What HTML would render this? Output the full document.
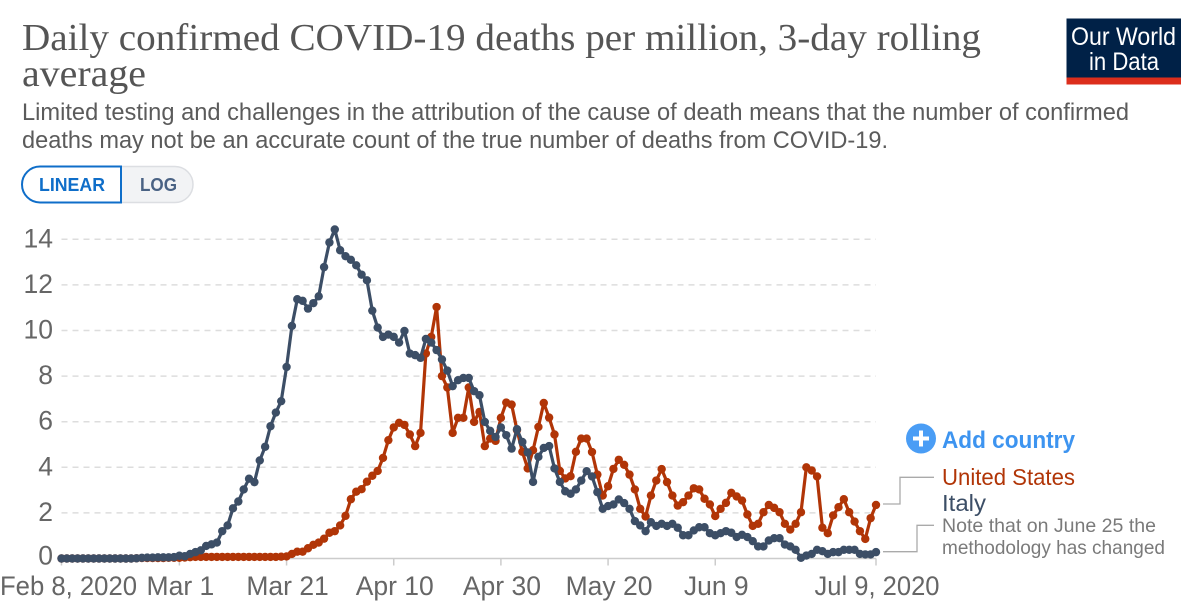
<!DOCTYPE html>
<html lang="en">
<head>
<meta charset="utf-8">
<title>Daily confirmed COVID-19 deaths per million</title>
<style>
html,body{margin:0;padding:0;background:#fff;width:1200px;height:608px;overflow:hidden}
svg{display:block}
text{font-family:"Liberation Sans",sans-serif}
.serif{font-family:"Liberation Serif",serif}
</style>
</head>
<body>
<svg id="chart" xmlns="http://www.w3.org/2000/svg" width="1200" height="608" viewBox="0 0 1200 608">
  <text class="serif" x="22" y="50" font-size="38" fill="#555" textLength="959" lengthAdjust="spacingAndGlyphs">Daily confirmed COVID-19 deaths per million, 3-day rolling</text>
  <text class="serif" x="22" y="86" font-size="38" fill="#555" textLength="124" lengthAdjust="spacingAndGlyphs">average</text>
  <text x="22" y="120" font-size="24" fill="#5b5b5b" textLength="1107" lengthAdjust="spacingAndGlyphs">Limited testing and challenges in the attribution of the cause of death means that the number of confirmed</text>
  <text x="22" y="148" font-size="24" fill="#5b5b5b" textLength="866" lengthAdjust="spacingAndGlyphs">deaths may not be an accurate count of the true number of deaths from COVID-19.</text>

  <g>
    <rect x="1066.5" y="18.5" width="114.5" height="59" fill="#002147"/>
    <rect x="1066.5" y="77.5" width="114.5" height="7" fill="#dc2e1c"/>
    <text x="1071" y="45" font-size="25" fill="#fff" textLength="105" lengthAdjust="spacingAndGlyphs">Our World</text>
    <text x="1089" y="70" font-size="25" fill="#fff" textLength="70" lengthAdjust="spacingAndGlyphs">in Data</text>
  </g>

  <g>
    <path d="M121 166.5H175a18 18 0 0 1 0 36H121Z" fill="#f2f3f5" stroke="#dcdee2" stroke-width="1.5"/>
    <path d="M121 166.5H40a18 18 0 0 0 0 36H121Z" fill="#fff" stroke="#0f6ec9" stroke-width="2"/>
    <text x="39" y="191" font-size="18" font-weight="bold" fill="#0f6ec9" textLength="66" lengthAdjust="spacingAndGlyphs">LINEAR</text>
    <text x="140" y="191" font-size="18" font-weight="bold" fill="#4a6284" textLength="37" lengthAdjust="spacingAndGlyphs">LOG</text>
  </g>

  <g id="grid"></g>
  <g id="xaxis"></g>
  <g id="yaxis"></g>
  <g id="series"></g>

  <g>
    <circle cx="921" cy="438.5" r="15" fill="#4a9df5"/>
    <path d="M921 430.5v16M913 438.5h16" stroke="#fff" stroke-width="4" fill="none"/>
    <text x="942" y="448" font-size="24" font-weight="bold" fill="#3d94f0" textLength="133" lengthAdjust="spacingAndGlyphs">Add country</text>
  </g>

  <path d="M883 504H900V477.3H934" fill="none" stroke="#aaa" stroke-width="1.3"/>
  <path d="M883 551.7H917V525.3H934" fill="none" stroke="#aaa" stroke-width="1.3"/>
  <text x="942" y="485" font-size="23" fill="#b13507" textLength="133" lengthAdjust="spacingAndGlyphs">United States</text>
  <text x="942" y="511" font-size="23" fill="#3c4e66" textLength="44" lengthAdjust="spacingAndGlyphs">Italy</text>
  <text x="942" y="532" font-size="19.5" fill="#7a7a7a" textLength="214" lengthAdjust="spacingAndGlyphs">Note that on June 25 the</text>
  <text x="942" y="554" font-size="19.5" fill="#7a7a7a" textLength="223" lengthAdjust="spacingAndGlyphs">methodology has changed</text>
</svg>

<script>
const yTicks = [0, 2, 4, 6, 8, 10, 12, 14];
const tickDays = [0, 22, 42, 62, 82, 102, 122, 152];
const tickLabels = ["Feb 8, 2020", "Mar 1", "Mar 21", "Apr 10", "Apr 30", "May 20", "Jun 9", "Jul 9, 2020"];
const unitedStates = [
  0,0,0,0,0,0,0,0,0,0,
  0,0,0,0,.01,.02,.02,.02,.02,.02,
  .03,.03,.03,.04,.06,.07,.07,.07,.07,.07,
  .07,.07,.07,.07,.07,.07,.07,.07,.07,.07,
  .07,.08,.09,.2,.3,.3,.45,.6,.7,.87,
  1.13,1.2,1.45,1.87,2.6,2.93,3.04,3.37,3.63,3.84,
  4.41,5.19,5.75,5.95,5.86,5.44,4.93,5.51,8.99,9.72,
  11.03,8,7.5,5.51,6.17,6.17,7.5,5.99,6.43,4.93,
  5.26,5.16,6.17,6.84,6.75,5.63,4.68,3.95,4.75,5.77,
  6.82,6.18,5.44,3.84,3.51,3.61,4.68,5.26,5.26,4.67,
  3.68,2.76,3.17,3.93,4.33,4.11,3.68,3.03,2.18,1.84,
  2.76,3.42,3.92,3.35,2.76,2.32,2.47,2.76,3.08,3.03,
  2.62,2.37,1.86,2.18,2.44,2.88,2.72,2.54,1.93,1.43,
  1.52,2.03,2.35,2.22,2.03,1.52,1.27,1.52,2.03,4.0,
  3.86,3.6,1.35,1.11,1.89,2.25,2.6,2.03,1.62,1.2,
  .86,1.77,2.35
];
const italy = [
  0,0,0,0,0,0,0,0,0,0,
  0,0,0,0,.01,.03,.04,.04,.05,.05,
  .05,.06,.12,.1,.2,.28,.36,.55,.62,.7,
  1.2,1.45,2.2,2.5,3.03,3.5,3.35,4.3,4.9,5.8,
  6.4,6.9,8.4,10.2,11.37,11.3,10.96,11.2,11.5,12.78,
  13.86,14.43,13.52,13.26,13.1,12.86,12.45,12.2,10.87,10.13,
  9.72,9.82,9.72,9.47,9.98,8.99,8.92,8.8,9.63,9.47,
  9.14,8.73,8.24,7.56,7.82,7.92,7.92,7.34,7.16,5.99,
  5.6,5.33,5.75,5.41,4.82,5.67,5.11,4.65,3.36,4.46,
  4.85,4.93,3.95,3.36,2.95,2.84,3.03,3.42,3.83,3.6,
  2.91,2.18,2.3,2.37,2.59,2.43,2.18,1.64,1.45,1.2,
  1.59,1.43,1.52,1.43,1.52,1.35,1.02,1.02,1.23,1.37,
  1.37,1.11,1.02,1.11,1.2,1.13,.94,1.04,.94,.76,
  .53,.53,.79,.89,.89,.61,.53,.38,.03,.13,
  .2,.38,.32,.2,.28,.28,.38,.38,.38,.2,
  .18,.18,.28
];

const NS = "http://www.w3.org/2000/svg";
const plotLeft = 61.5, plotRight = 876, yZero = 558.5, unitPx = 22.8;
const maxDay = 152;
function xScale(day) { return plotLeft + day * (plotRight - plotLeft) / maxDay; }
function yScale(value) { return yZero - value * unitPx; }
function make(tag, attrs, parent) {
  const el = document.createElementNS(NS, tag);
  for (const k in attrs) el.setAttribute(k, attrs[k]);
  parent.appendChild(el);
  return el;
}

const grid = document.getElementById("grid");
const yAxis = document.getElementById("yaxis");
const xAxis = document.getElementById("xaxis");
const seriesLayer = document.getElementById("series");

yTicks.forEach(function (v) {
  const y = yScale(v);
  if (v !== 0) {
    const line = make("line", {x1: plotLeft, x2: plotRight, y1: y, y2: y, stroke: "#ddd", "stroke-width": 1.5, "stroke-dasharray": "6,5"}, grid);
    
    
  }
  const label = make("text", {x: 53, y: v === 0 ? y + 6 : y + 8, "text-anchor": "end", "font-size": 26.5, fill: "#666"}, yAxis);
  label.textContent = String(v);
  
  
});

const axisLine = make("line", {x1: plotLeft, x2: plotRight, y1: yZero, y2: yZero, stroke: "#ccc", "stroke-width": 1.5}, xAxis);



tickDays.forEach(function (d, i) {
  const x = xScale(d);
  const tick = make("line", {x1: x, x2: x, y1: yZero, y2: yZero + 7, stroke: "#ccc", "stroke-width": 1.5}, xAxis);
  
  
  const first = i === 0;
  const last = i === tickDays.length - 1;
  const label = make("text", {x: first ? 0 : x + 1, y: 595, "text-anchor": first ? "start" : "middle", "font-size": 26.5, fill: "#666"}, xAxis);
  label.textContent = tickLabels[i];
  if (first) { label.setAttribute("textLength", 137); label.setAttribute("lengthAdjust", "spacingAndGlyphs"); }
  if (last) { label.setAttribute("textLength", 125); label.setAttribute("lengthAdjust", "spacingAndGlyphs"); }
  
  
});

function drawSeries(values, color) {
  const g = make("g", {}, seriesLayer);
  
  
  const pts = values.map(function (v, i) { return xScale(i).toFixed(2) + "," + yScale(v).toFixed(2); }).join(" ");
  const line = make("polyline", {points: pts, fill: "none", stroke: color, "stroke-width": 3.2, "stroke-linejoin": "round"}, g);
  
  
  values.forEach(function (v, i) {
    const dot = make("circle", {cx: xScale(i).toFixed(2), cy: yScale(v).toFixed(2), r: 4.2, fill: color}, g);
    
    
  });
}
drawSeries(unitedStates, "#b13507");
drawSeries(italy, "#3c4e66");
</script>
</body>
</html>
